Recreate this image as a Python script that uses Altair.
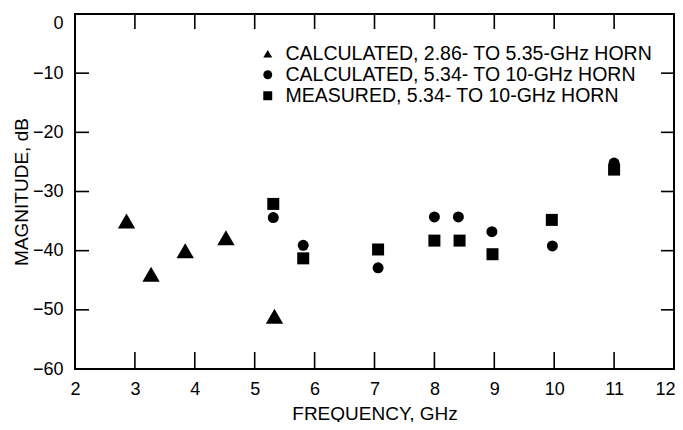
import altair as alt
import pandas as pd

# ---- data ----
series_names = [
    "CALCULATED, 2.86- TO 5.35-GHz HORN",
    "CALCULATED, 5.34- TO 10-GHz HORN",
    "MEASURED, 5.34- TO 10-GHz HORN",
]
tri_freq = [2.86, 3.27, 3.84, 4.52, 5.33]
tri_mag = [-35.0, -44.0, -40.0, -37.8, -51.1]
circ_freq = [5.31, 5.81, 7.06, 8.00, 8.40, 8.96, 9.97, 11.0]
circ_mag = [-34.4, -39.1, -42.9, -34.3, -34.3, -36.8, -39.2, -25.2]
sq_freq = [5.31, 5.81, 7.06, 8.00, 8.42, 8.97, 9.96, 11.0]
sq_mag = [-32.1, -41.3, -39.8, -38.3, -38.3, -40.6, -34.8, -26.3]

x_labels = [2, 3, 4, 5, 6, 7, 8, 9, 10, 11, 12]
y_labels = [0, -10, -20, -30, -40, -50, -60]
x_inner_ticks = [3, 4, 5, 6, 7, 8, 9, 10, 11]
y_inner_ticks = [-10, -20, -30, -40, -50]

rows = []
for f, m in zip(tri_freq, tri_mag):
    rows.append({"freq": f, "mag": m, "series": series_names[0]})
for f, m in zip(circ_freq, circ_mag):
    rows.append({"freq": f, "mag": m, "series": series_names[1]})
for f, m in zip(sq_freq, sq_mag):
    rows.append({"freq": f, "mag": m, "series": series_names[2]})
df = pd.DataFrame(rows)
xt = pd.DataFrame({"freq": x_inner_ticks})
yt = pd.DataFrame({"mag": y_inner_ticks})

W, H = 599, 355
FONT = "Liberation Sans"

x_scale = alt.Scale(domain=[2, 12], nice=False, zero=False)
y_scale = alt.Scale(domain=[-60, 0], nice=False)
shape_scale = alt.Scale(domain=series_names, range=["triangle-up", "circle", "square"])

x_axis = alt.Axis(
    values=x_labels, title="FREQUENCY, GHz", domain=False, ticks=False, grid=False,
    labelPadding=11, labelFont=FONT, labelFontSize=18, labelColor="black",
    labelAlign={"condition": {"test": "datum.value == 12", "value": "right"}, "value": "center"},
    labelOffset={"condition": {"test": "datum.value == 12", "value": 1}, "value": 0},
    titleFont=FONT, titleFontSize=19, titleFontWeight="normal", titleColor="black",
    titleBaseline="alphabetic", titleY=50, labelFlush=False,
)
y_axis = alt.Axis(
    values=y_labels, title="MAGNITUDE, dB", domain=False, ticks=False, grid=False,
    labelPadding=12, labelFont=FONT, labelFontSize=18, labelColor="black",
    labelBaseline={"condition": {"test": "datum.value == 0", "value": "top"}, "value": "middle"},
    titleFont=FONT, titleFontSize=19, titleFontWeight="normal", titleColor="black",
    titleBaseline="alphabetic", titleX=-48, labelFlush=False,
)
legend = alt.Legend(
    title=None, orient="none", legendX=183, legendY=30, padding=0,
    labelFont=FONT, labelFontSize=19.5, labelColor="black", labelOffset=8,
    labelLimit=0, rowPadding=0, symbolSize=80, symbolFillColor="black",
    symbolStrokeColor="black", symbolStrokeWidth=0, symbolOpacity=1,
)

X = alt.X("freq:Q", scale=x_scale, axis=x_axis)
Y = alt.Y("mag:Q", scale=y_scale, axis=y_axis)

sizes = [300, 121, 144]
layers = []
for name, sz in zip(series_names, sizes):
    layers.append(
        alt.Chart(df)
        .transform_filter(alt.datum.series == name)
        .mark_point(filled=True, opacity=1, color="black", strokeWidth=0)
        .encode(
            x=X,
            y=Y,
            shape=alt.Shape("series:N", scale=shape_scale, legend=legend),
            size=alt.value(sz),
        )
    )

rule_style = dict(color="black", strokeWidth=1.6)
bottom_ticks = alt.Chart(xt).mark_rule(**rule_style).encode(
    x=X, y=alt.value(H), y2=alt.value(H - 17)
)
top_ticks = alt.Chart(xt).mark_rule(**rule_style).encode(
    x=X, y=alt.value(0), y2=alt.value(15)
)
left_ticks = alt.Chart(yt).mark_rule(**rule_style).encode(
    y=Y, x=alt.value(0), x2=alt.value(14)
)
right_ticks = alt.Chart(yt).mark_rule(**rule_style).encode(
    y=Y, x=alt.value(W), x2=alt.value(W - 13)
)

chart = (
    alt.layer(*layers, bottom_ticks, top_ticks, left_ticks, right_ticks)
    .properties(
        width=W, height=H,
        autosize=alt.AutoSizeParams(type="none"),
        padding={"left": 67, "top": 6, "right": 1, "bottom": 53},
        background="white",
    )
    .configure_view(stroke="black", strokeWidth=2)
)

chart.save("out.html", embed_options={"renderer": "svg", "actions": False})
